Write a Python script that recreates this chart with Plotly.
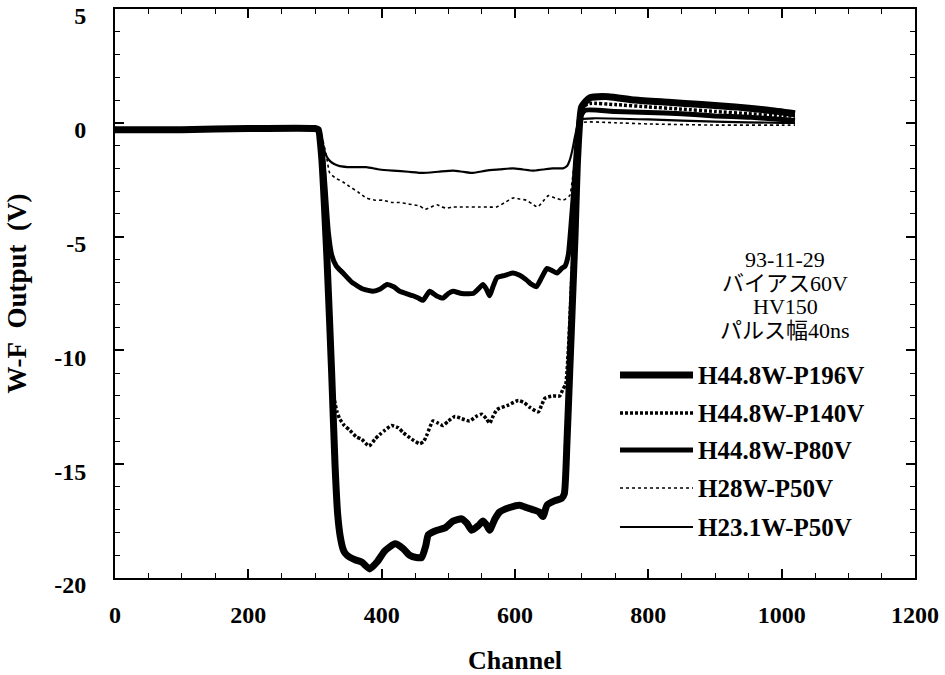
import plotly.graph_objects as go

# ---------------- data ----------------
series_names = ["H44.8W-P196V", "H44.8W-P140V", "H44.8W-P80V", "H28W-P50V", "H23.1W-P50V"]

ch_p196 = [0, 100, 200, 300, 305, 310, 318, 325, 330, 334, 338, 343, 348, 360, 370, 382, 393, 405, 420, 432,
           442, 452, 460, 466, 470, 483, 495, 507, 520, 528, 535, 545, 552, 558, 562, 570, 577, 592, 607, 617,
           627, 636, 642, 648, 660, 670, 674, 678, 682, 686, 690, 694, 700, 712, 740, 780, 830, 880, 930, 980, 1020]
v_p196 = [-0.3, -0.3, -0.25, -0.25, -0.3, -1.5, -6, -11, -15, -17.2, -18.2, -18.8, -19.0, -19.2, -19.3, -19.6, -19.3,
          -18.8, -18.5, -18.7, -19.0, -19.1, -19.1, -18.6, -18.1, -17.9, -17.8, -17.5, -17.4, -17.6, -17.9, -17.7,
          -17.5, -17.7, -17.9, -17.4, -17.1, -16.9, -16.8, -16.9, -17.0, -17.1, -17.3, -16.8, -16.6, -16.5, -16.3,
          -14, -11, -8, -5, -1.5, 0.7, 1.1, 1.15, 1.0, 0.9, 0.8, 0.7, 0.55, 0.4]

ch_p140 = [0, 100, 200, 300, 305, 310, 316, 322, 328, 333, 337, 344, 352, 362, 370, 381, 390, 397, 405, 415, 425,
           432, 445, 457, 463, 468, 477, 485, 492, 500, 510, 520, 532, 542, 550, 557, 562, 567, 573, 590, 605, 614,
           622, 635, 640, 645, 657, 667, 672, 676, 680, 685, 690, 695, 702, 712, 750, 800, 850, 900, 950, 1000, 1020]
v_p140 = [-0.3, -0.3, -0.25, -0.25, -0.3, -1.5, -5, -9, -12, -12.7, -13.0, -13.3, -13.5, -13.8, -13.9, -14.2, -13.9,
          -13.7, -13.5, -13.3, -13.4, -13.6, -13.9, -14.1, -14.0, -13.7, -13.1, -13.2, -13.3, -13.1, -12.9, -13.0,
          -13.1, -12.9, -12.8, -13.0, -13.2, -12.9, -12.6, -12.4, -12.2, -12.3, -12.5, -12.7, -12.4, -12.1, -12.0,
          -12.0, -11.7, -11.5, -10, -7, -4, -0.5, 0.7, 0.85, 0.8, 0.7, 0.6, 0.5, 0.4, 0.3, 0.3]

ch_p80 = [0, 100, 200, 300, 305, 310, 315, 320, 325, 332, 342, 355, 372, 387, 398, 408, 418, 427, 437, 447, 455,
          462, 467, 472, 482, 492, 500, 507, 520, 537, 545, 552, 557, 562, 567, 573, 585, 597, 607, 617, 625, 632,
          640, 648, 656, 663, 670, 675, 680, 684, 688, 692, 697, 705, 750, 800, 850, 900, 950, 1000, 1020]
v_p80 = [-0.3, -0.3, -0.25, -0.25, -0.3, -1.0, -2.8, -4.8, -5.8, -6.3, -6.6, -7.0, -7.3, -7.4, -7.3, -7.1, -7.2,
         -7.4, -7.5, -7.6, -7.7, -7.8, -7.6, -7.4, -7.6, -7.7, -7.5, -7.4, -7.5, -7.5, -7.3, -7.1, -7.3, -7.6, -7.2,
         -6.8, -6.7, -6.6, -6.7, -6.9, -7.1, -7.2, -6.8, -6.4, -6.5, -6.6, -6.4, -6.3, -5.8, -4.5, -3, -1.2, 0.2,
         0.55, 0.5, 0.45, 0.4, 0.3, 0.25, 0.15, 0.1]

ch_h28 = [0, 300, 305, 312, 318, 322, 332, 342, 352, 365, 377, 390, 402, 415, 427, 437, 447, 457, 465, 474, 483,
          490, 498, 507, 517, 530, 547, 560, 572, 585, 597, 607, 617, 625, 634, 642, 650, 660, 672, 682, 686, 690,
          695, 700, 750, 800, 900, 1000, 1020]
v_h28 = [-0.3, -0.25, -0.3, -0.8, -1.6, -2.2, -2.45, -2.6, -2.8, -3.05, -3.3, -3.4, -3.4, -3.5, -3.5, -3.55, -3.6,
         -3.65, -3.8, -3.7, -3.6, -3.7, -3.75, -3.7, -3.7, -3.7, -3.7, -3.7, -3.7, -3.5, -3.3, -3.35, -3.4, -3.55,
         -3.7, -3.45, -3.2, -3.3, -3.4, -3.2, -2.5, -1.5, -0.5, 0.0, 0.0, -0.05, -0.1, -0.1, -0.1]

ch_h23 = [0, 300, 305, 310, 315, 320, 328, 337, 355, 377, 397, 417, 440, 462, 485, 507, 522, 537, 557, 577, 597,
          612, 627, 642, 657, 672, 678, 682, 686, 690, 694, 698, 720, 800, 900, 1000, 1020]
v_h23 = [-0.3, -0.25, -0.3, -0.7, -1.3, -1.6, -1.8, -1.9, -1.95, -1.95, -2.05, -2.1, -2.15, -2.2, -2.15, -2.1,
         -2.15, -2.2, -2.1, -2.05, -2.0, -2.05, -2.1, -2.05, -2.0, -2.0, -1.9, -1.65, -1.2, -0.6, -0.1, 0.15, 0.2,
         0.15, 0.05, 0.0, 0.0]

x_tickvals = [0, 200, 400, 600, 800, 1000, 1200]
x_ticktext = ["0", "200", "400", "600", "800", "1000", "1200"]
y_tickvals = [5, 0, -5, -10, -15, -20]
y_ticktext = ["5", "0", "-5", "-10", "-15", "-20"]

notes = ["93-11-29", "バイアス60V", "HV150", "パルス幅40ns"]

# ---------------- styling ----------------
SERIF = "Liberation Serif, Times New Roman, serif"
JP = "Liberation Serif, Noto Sans CJK JP, serif"
styles = [
    dict(width=7, dash="solid"),
    dict(width=3.5, dash="3px,2px"),
    dict(width=5, dash="solid"),
    dict(width=1.6, dash="dot"),
    dict(width=2.2, dash="solid"),
]
xs = [ch_p196, ch_p140, ch_p80, ch_h28, ch_h23]
ys = [v_p196, v_p140, v_p80, v_h28, v_h23]

fig = go.Figure()
for name, x, y, st in zip(series_names, xs, ys, styles):
    fig.add_trace(go.Scatter(x=x, y=y, mode="lines", name=name, showlegend=False,
                             line=dict(color="black", width=st["width"], dash=st["dash"],
                                       shape="spline", smoothing=0.5)))

# manual legend (line samples + labels)
L = 115
T = 9
PW = 800
PH = 569
def px(xp):
    return (xp - L) / PW
def py(yp):
    return (T + PH - yp) / PH

legend_rows = [375, 413, 450, 488, 527]
for name, st, yr in zip(series_names, styles, legend_rows):
    fig.add_shape(type="line", xref="paper", yref="paper", x0=px(620), x1=px(693), y0=py(yr), y1=py(yr),
                  line=dict(color="black", width=st["width"], dash=st["dash"]))
    fig.add_annotation(text=name, xref="paper", yref="paper", x=px(696), y=py(yr), xanchor="left",
                       yanchor="middle", showarrow=False,
                       font=dict(family=SERIF, size=25, color="black", weight="bold"))

note_rows = [259, 283, 306, 330]
for t, yr in zip(notes, note_rows):
    fig.add_annotation(text=t, xref="paper", yref="paper", x=px(785), y=py(yr), xanchor="center",
                       yanchor="middle", showarrow=False,
                       font=dict(family=JP, size=22, color="black"))

axis_common = dict(showline=True, linecolor="black", linewidth=2, mirror="ticks", ticks="inside",
                   tickcolor="black", tickwidth=1.5, ticklen=9, showgrid=False, zeroline=False,
                   ticklabeloverflow="allow", automargin=False,
                   tickfont=dict(family=SERIF, size=24, color="black", weight="bold"))

fig.update_xaxes(range=[0, 1200], tickvals=x_tickvals, ticktext=x_ticktext,
                 minor=dict(dtick=50, tick0=0, ticks="inside", ticklen=5, tickcolor="black", tickwidth=1.2),
                 ticklabelstandoff=14,
                 title=dict(text="Channel", standoff=30,
                            font=dict(family=SERIF, size=26, color="black", weight="bold")),
                 **axis_common)
fig.update_yaxes(range=[-20, 5.001], tickvals=y_tickvals, ticktext=y_ticktext,
                 minor=dict(dtick=1, tick0=0, ticks="inside", ticklen=5, tickcolor="black", tickwidth=1.2),
                 ticklabelstandoff=22, ticklabelshift=7,
                 title=dict(text="W-F\u00a0\u00a0Output\u00a0\u00a0(V)", standoff=20,
                            font=dict(family=SERIF, size=27, color="black", weight="bold")),
                 **axis_common)

fig.update_layout(width=945, height=675, margin=dict(l=115, r=30, t=9, b=97),
                  paper_bgcolor="white", plot_bgcolor="white", showlegend=False)

fig.write_html("out.html")
